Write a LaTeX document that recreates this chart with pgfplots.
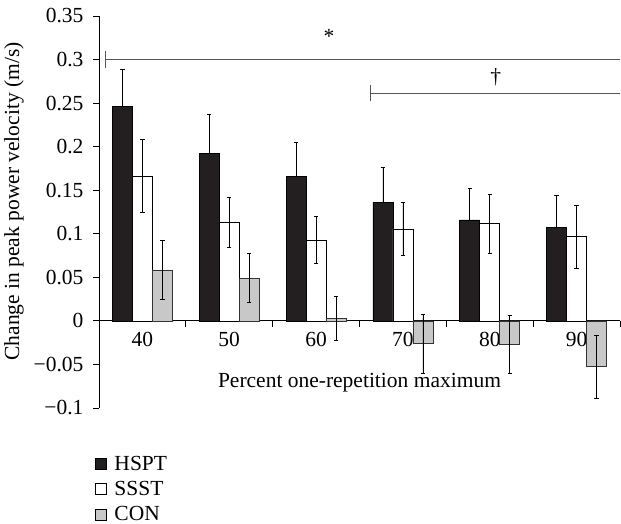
\documentclass[border=0pt]{standalone}
\usepackage{fontspec}
\setmainfont{Liberation Serif}
\usepackage{pgfplots}
\pgfplotsset{compat=1.18}

\definecolor{hspt}{HTML}{231F20}
\definecolor{con}{HTML}{C8C8C8}
\definecolor{sigline}{HTML}{555555}

% x = category index (40,50,...,90), y = mean change, e = error
\pgfplotstableread{
x y e
0 0.246 0.043
1 0.1925 0.045
2 0.166 0.039
3 0.136 0.040
4 0.116 0.036
5 0.107 0.037
}\hspt
\pgfplotstableread{
x y e
0 0.166 0.042
1 0.113 0.029
2 0.0926 0.027
3 0.1056 0.030
4 0.1117 0.034
5 0.0968 0.036
}\ssst
\pgfplotstableread{
x y e
0 0.0586 0.034
1 0.049 0.028
2 0.003 0.025
3 -0.026 0.034
4 -0.027 0.033
5 -0.0525 0.036
}\con

\begin{document}
\begin{tikzpicture}
\begin{axis}[
  scale only axis,
  width=521bp, height=392bp,
  font=\fontsize{21.5bp}{25bp}\selectfont,
  ybar=0pt, bar width=20bp,
  xmin=-0.5, xmax=5.5,
  ymin=-0.1, ymax=0.35,
  axis y line=left, axis x line=middle,
  axis line style={-, line width=0.8bp},
  xtick={0,...,5},
  xticklabels={40,50,60,70,80,90},
  minor xtick={0.5,1.5,2.5,3.5,4.5,5.5},
  major x tick style={draw=none},
  minor x tick style={black, line width=0.8bp},
  minor tick length=6bp,
  ytick={-0.1,-0.05,0,0.05,0.1,0.15,0.2,0.25,0.3,0.35},
  yticklabels={−0.1,−0.05,0,0.05,0.1,0.15,0.2,0.25,0.3,0.35},
  ytick style={black, line width=0.8bp},
  major tick length=6bp,
  tick align=outside,
  xticklabel style={yshift=-2bp},
  yticklabel style={xshift=-6bp},
  xlabel={Percent one-repetition maximum},
  xlabel style={at={(axis description cs:0.5,0.064)}, anchor=center},
  ylabel={Change in peak power velocity (m/s)},
  ylabel style={at={(axis description cs:-0.163,0.527)}, anchor=center},
  error bars/y dir=both, error bars/y explicit,
  error bars/error bar style={black, line width=0.8bp},
  error bars/error mark options={rotate=90, black, line width=0.8bp, mark size=2.2bp},
  legend style={draw=none, fill=none, at={(rel axis cs:0,0)}, anchor=north west,
    xshift=-7bp, yshift=-44bp, row sep=5.5bp,
    font=\fontsize{21.5bp}{25bp}\selectfont},
  legend cell align=left,
  legend image code/.code={\path[draw=none, fill=none] (0bp,0bp) -- (17bp,0bp);
    \draw[#1, draw=black, line width=0.6bp] (0bp,-5.5bp) rectangle (11bp,5.5bp);},
  clip=false,
]
\addplot[fill=hspt, draw=black, line width=0.6bp, error bars/y dir=plus] table[x=x, y=y, y error=e] {\hspt};
\addplot[fill=white, draw=black, line width=0.6bp] table[x=x, y=y, y error=e] {\ssst};
\addplot[fill=con, draw=black!80, line width=0.6bp] table[x=x, y=y, y error=e] {\con};
\legend{HSPT, SSST, CON}

% significance annotations
\draw[sigline, line width=1bp] (axis cs:-0.423,0.3) -- (axis cs:5.5,0.3);
\draw[sigline, line width=1bp] (axis cs:-0.423,0.2905) -- (axis cs:-0.423,0.3095);
\node at (axis cs:2.149,0.327) {*};
\draw[sigline, line width=1bp] (axis cs:2.629,0.2614) -- (axis cs:5.5,0.2614);
\draw[sigline, line width=1bp] (axis cs:2.629,0.2519) -- (axis cs:2.629,0.2709);
\node at (axis cs:4.069,0.28) {†};

\coordinate (ll) at (rel axis cs:0,0);
\coordinate (ur) at (rel axis cs:1,1);
\end{axis}
\pgfresetboundingbox
\path[use as bounding box] ([shift={(-99bp,-116bp)}]ll) rectangle ([shift={(1bp,16bp)}]ur);
\end{tikzpicture}
\end{document}
